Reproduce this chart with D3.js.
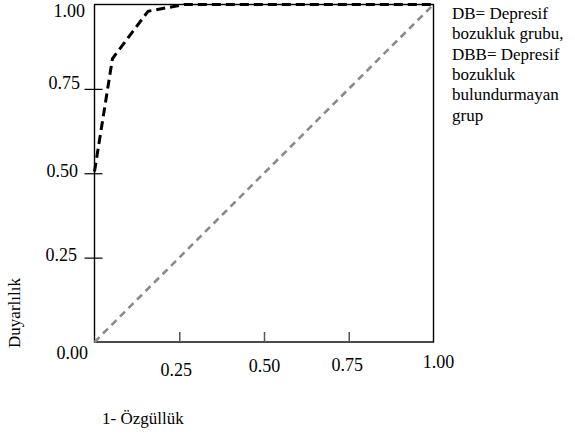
<!DOCTYPE html>
<html>
<head>
<meta charset="utf-8">
<script src="https://cdn.jsdelivr.net/npm/d3@7"></script>
<style>
  body { margin: 0; background: #fff; }
  text { font-family: "Liberation Serif", "Times New Roman", serif; font-size: 17px; fill: #000; }
  .tick text { font-size: 18px; }
</style>
</head>
<body>
<div id="chart"></div>
<script>
// ROC curve points (1 - specificity, sensitivity)
var rocX = [0.0, 0.053, 0.158, 0.265, 1.0];
var rocY = [0.505, 0.84, 0.98, 1.0, 1.0];
// reference line
var refX = [0.0, 1.0];
var refY = [0.0, 1.0];

var tickValues = [0, 0.25, 0.5, 0.75, 1];
var tickLabels = ["0.00", "0.25", "0.50", "0.75", "1.00"];
var legendLines = ["DB= Depresif", "bozukluk grubu,", "DBB= Depresif", "bozukluk", "bulundurmayan", "grup"];
var xTitle = "1- Özgüllük";
var yTitle = "Duyarlılık";

var W = 575, H = 435,
    m = [4.5, 141.5, 93, 94.5], //top right bottom left
    w = W - m[1] - m[3],
    h = H - m[0] - m[2];

// small label nudges to follow the original's uneven placement
var yLabelNudge = [[-6.5, 10], [-17.5, -3], [-16.5, -2.5], [-14.5, -6], [-9.5, 5.5]];
var xLabelNudge = [[0, 0], [-3.5, 28], [0, 24.5], [-2, 23.5], [4.5, 20]];

var x = d3.scaleLinear().domain([0, 1]).range([0, w]);
var y = d3.scaleLinear().domain([0, 1]).range([h, 0]);

var svg = d3.select("#chart").append("svg")
    .attr("width", W)
    .attr("height", H);

var g = svg.append("g")
    .attr("transform", "translate(" + m[3] + "," + m[0] + ")");

// frame
g.append("rect")
  .attr("width", w)
  .attr("height", h)
  .attr("fill", "none")
  .attr("stroke", "#000")
  .attr("stroke-width", 1.4);

var line = d3.line()
  .x(function(d) { return x(d[0]); })
  .y(function(d) { return y(d[1]); });

g.append("path")
  .datum(d3.zip(refX, refY))
  .attr("d", line)
  .attr("fill", "none")
  .attr("stroke", "#8a8a8a")
  .attr("stroke-width", 2.6)
  .attr("stroke-dasharray", "7,5");

g.append("path")
  .datum(d3.zip(rocX, rocY))
  .attr("d", line)
  .attr("fill", "none")
  .attr("stroke", "#000")
  .attr("stroke-width", 3)
  .attr("stroke-linejoin", "miter")
  .attr("stroke-dasharray", "9,5");

// y axis
var yAxis = d3.axisLeft(y)
  .tickValues(tickValues)
  .tickFormat(function(d, i) { return tickLabels[i]; })
  .tickSize(10)
  .tickPadding(9);

var yg = g.append("g").call(yAxis);
yg.select(".domain").remove();
yg.selectAll(".tick line")
  .attr("x1", 8)
  .attr("stroke", "#000")
  .attr("stroke-width", 1.2)
  .attr("display", function(d) { return (d === 0 || d === 1) ? "none" : null; });
yg.selectAll(".tick text")
  .attr("font-family", null)
  .attr("font-size", null)
  .attr("x", function(d, i) { return yLabelNudge[i][0]; })
  .attr("dy", function(d, i) { return (yLabelNudge[i][1] + 6) + "px"; });

// x axis
var xAxis = d3.axisBottom(x)
  .tickValues(tickValues)
  .tickFormat(function(d, i) { return tickLabels[i]; })
  .tickSize(-10)
  .tickPadding(0);

var xg = g.append("g")
  .attr("transform", "translate(0," + h + ")")
  .call(xAxis);
xg.select(".domain").remove();
xg.selectAll(".tick line")
  .attr("stroke", "#555")
  .attr("stroke-width", 1.5)
  .attr("display", function(d) { return (d === 0 || d === 1) ? "none" : null; });
xg.selectAll(".tick text")
  .attr("font-family", null)
  .attr("font-size", null)
  .attr("display", function(d) { return d === 0 ? "none" : null; })
  .attr("x", function(d, i) { return xLabelNudge[i][0]; })
  .attr("y", function(d, i) { return xLabelNudge[i][1]; })
  .attr("dy", "0.32em");

// titles
svg.append("text")
  .attr("x", 102)
  .attr("y", 423.5)
  .text(xTitle);

svg.append("text")
  .attr("transform", "translate(20,313) rotate(-90)")
  .attr("text-anchor", "middle")
  .text(yTitle);

// legend note
svg.append("g").selectAll("text")
  .data(legendLines)
  .enter().append("text")
  .attr("x", 452)
  .attr("y", function(d, i) { return 19 + i * 20.3; })
  .text(function(d) { return d; });
</script>
</body>
</html>
